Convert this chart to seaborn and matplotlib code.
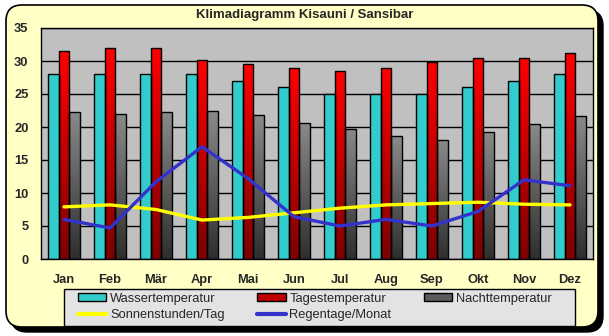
import numpy as np
import pandas as pd
import matplotlib
matplotlib.use("Agg")
import matplotlib.pyplot as plt
import seaborn as sns
from matplotlib.patches import FancyBboxPatch, Patch, Rectangle
from matplotlib.lines import Line2D
from matplotlib.colors import LinearSegmentedColormap
from matplotlib.transforms import IdentityTransform

months = ["Jan", "Feb", "Mär", "Apr", "Mai", "Jun", "Jul", "Aug", "Sep", "Okt", "Nov", "Dez"]
wasser = [28, 28, 28, 28, 27, 26, 25, 25, 25, 26, 27, 28]
tages = [31.5, 32, 32, 30.2, 29.6, 29, 28.5, 28.9, 29.8, 30.4, 30.4, 31.2]
nacht = [22.2, 21.9, 22.2, 22.4, 21.8, 20.6, 19.7, 18.6, 18.1, 19.2, 20.4, 21.6]
sonne = [7.9, 8.2, 7.5, 5.9, 6.3, 7.0, 7.7, 8.2, 8.4, 8.6, 8.3, 8.2]
regen = [6.0, 4.7, 11.7, 17.0, 12.2, 6.4, 5.0, 6.0, 5.0, 7.2, 12.0, 11.1]
bar_names = ["Wassertemperatur", "Tagestemperatur", "Nachttemperatur"]
line_names = ["Sonnenstunden/Tag", "Regentage/Monat"]
title = "Klimadiagramm Kisauni / Sansibar"

sns.set_style("white")
plt.rcParams["font.family"] = ["Liberation Sans", "DejaVu Sans"]

df = pd.DataFrame({
    "Monat": months * 3,
    "Wert": wasser + tages + nacht,
    "Reihe": [n for n in bar_names for _ in months],
})

W, H = 609, 336
fig = plt.figure(figsize=(W / 100, H / 100), dpi=100)
fig.patch.set_facecolor("white")

# frame with shadow (pixel coordinates)
shadow = FancyBboxPatch((11, 4), 592, 322, boxstyle="round,pad=0,rounding_size=16",
                        transform=IdentityTransform(), facecolor="black", edgecolor="black", zorder=-2)
frame = FancyBboxPatch((6, 9), 592, 322, boxstyle="round,pad=0,rounding_size=16",
                       transform=IdentityTransform(), facecolor="#FFFFC6", edgecolor="black",
                       linewidth=1.2, zorder=-1)
fig.add_artist(shadow)
fig.add_artist(frame)

ax = fig.add_axes([41 / W, (H - 259) / H, 552 / W, 231 / H])
ax.set_zorder(1)
ax.set_facecolor("#C0C0C0")

palette = ["#33CCCC", "#FF0000", "#808080"]
sns.barplot(data=df, x="Monat", y="Wert", hue="Reihe", palette=palette, width=0.7,
            edgecolor="black", linewidth=1, saturation=1, legend=False, ax=ax, zorder=2)

red_cmap = LinearSegmentedColormap.from_list("r", ["#7A0000", "#FF0000"])
gray_cmap = LinearSegmentedColormap.from_list("g", ["#2E2E2E", "#8A8A8A"])
grad = np.linspace(1, 0, 256).reshape(-1, 1)
n = len(months)
for i, bar in enumerate(ax.patches[: 3 * n]):
    series = i // n
    if series == 0:
        continue
    cmap = red_cmap if series == 1 else gray_cmap
    x0 = bar.get_x()
    x1 = x0 + bar.get_width()
    h = bar.get_height()
    im = ax.imshow(grad, extent=[x0, x1, 0, h], aspect="auto", cmap=cmap,
                   vmin=0, vmax=1, zorder=1.9, interpolation="bilinear")
    im.set_clip_path(bar)
    bar.set_facecolor("none")

pos = np.arange(n)
sns.lineplot(x=pos, y=sonne, color="#FFFF00", linewidth=2.4, ax=ax, zorder=3, legend=False)
sns.lineplot(x=pos, y=regen, color="#3333CC", linewidth=2.4, ax=ax, zorder=3.1, legend=False)

ax.set_xlim(-0.5, n - 0.5)
ax.set_ylim(0, 35)
ax.set_yticks(np.arange(0, 36, 5))
ax.set_yticks(np.arange(0, 36, 1), minor=True)
ax.set_yticklabels([str(v) for v in range(0, 36, 5)], fontweight="bold", fontsize=9.3)
ax.set_xticks(np.arange(-0.5, n, 1))
ax.set_xticklabels([""] * (n + 1))
ax.set_xticks(pos, minor=True)
ax.set_xticklabels(months, minor=True, fontweight="bold", fontsize=9.3)
ax.tick_params(axis="x", which="major", direction="out", length=5, width=1, color="black")
ax.tick_params(axis="x", which="minor", length=0, pad=11)
ax.tick_params(axis="y", which="major", direction="out", length=5, width=1, color="black", pad=4)
ax.tick_params(axis="y", which="minor", direction="out", length=3, width=1, color="black")
ax.grid(axis="y", which="major", color="black", linewidth=1)
ax.set_axisbelow(True)
for s in ax.spines.values():
    s.set_color("black")
    s.set_linewidth(1)
ax.set_xlabel("")
ax.set_ylabel("")

fig.text(305 / W, (H - 15) / H, title, ha="center", va="center", fontsize=9.5, fontweight="bold")

# legend box
legbox = Rectangle((64, H - 326), 511, 37, transform=IdentityTransform(),
                   facecolor="#E3E3E3", edgecolor="black", linewidth=1, zorder=4)
fig.add_artist(legbox)

handles = [
    Patch(facecolor=palette[0], edgecolor="black", label=bar_names[0]),
    Line2D([], [], color="#FFFF00", linewidth=3, label=line_names[0]),
    Patch(facecolor="#C00000", edgecolor="black", label=bar_names[1]),
    Line2D([], [], color="#3333CC", linewidth=3, label=line_names[1]),
    Patch(facecolor="#5A5A5A", edgecolor="black", label=bar_names[2]),
]
leg = fig.legend(handles=handles, ncol=3, loc="center left",
                 bbox_to_anchor=(78 / W, (H - 307) / H),
                 fontsize=9.3, frameon=False, handlelength=2.2, handleheight=0.65,
                 handletextpad=0.3, borderpad=0, labelspacing=0.36, borderaxespad=0,
                 columnspacing=2.5)
leg.set_zorder(5)

fig.savefig("out.png", dpi=100, facecolor=fig.get_facecolor())
